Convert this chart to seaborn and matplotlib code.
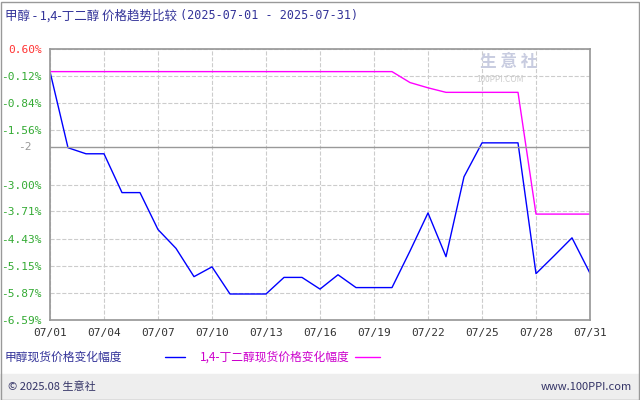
import numpy as np
import pandas as pd
import matplotlib
matplotlib.use("Agg")
import matplotlib.pyplot as plt
import seaborn as sns

days = list(range(1, 32))
methanol = [0, -2.02, -2.18, -2.18, -3.21, -3.21, -4.19, -4.69, -5.44, -5.18,
            -5.90, -5.90, -5.90, -5.46, -5.46, -5.77, -5.39, -5.73, -5.73, -5.73,
            -4.76, -3.75, -4.91, -2.79, -1.89, -1.89, -1.89, -5.36, -4.89, -4.41, -5.35]
bdo = [0] * 20 + [-0.29, -0.43, -0.55, -0.55, -0.55, -0.55, -0.55, -3.78, -3.78, -3.78, -3.78]
yticks = [0.60, -0.12, -0.84, -1.56, -3.00, -3.71, -4.43, -5.15, -5.87, -6.59]
xtick_days = list(range(1, 32, 3))
xtick_labels = [f"07/{d:02d}" for d in xtick_days]

sns.set_theme(style="white")
plt.rcParams['font.family'] = ['Noto Sans CJK SC', 'DejaVu Sans']

df = pd.DataFrame({"day": days + days,
                   "val": methanol + bdo,
                   "name": ["甲醇现货价格变化幅度"] * 31 + ["1,4-丁二醇现货价格变化幅度"] * 31})

fig = plt.figure(figsize=(6.4, 4.0), dpi=100)
ax = fig.add_axes([50 / 640, 1 - 320 / 400, 540 / 640, 271 / 400])
sns.lineplot(data=df, x="day", y="val", hue="name", palette=["#0000ff", "#ff00ff"],
             linewidth=1, ax=ax, legend=False)
ax.set_xlim(1, 31)
ax.set_ylim(-6.59, 0.60)
ax.set_yticks(yticks)
ax.set_yticklabels([f"{v:.2f}%" for v in yticks], fontsize=8, family='DejaVu Sans Mono')
for lab, v in zip(ax.get_yticklabels(), yticks):
    lab.set_color("#ff3333" if v > 0 else "#33aa33")
ax.set_xticks(xtick_days)
ax.set_xticklabels(xtick_labels, fontsize=8, family='DejaVu Sans Mono', color="#333333")
ax.set_xlabel("")
ax.set_ylabel("")
ax.grid(True, color="#cccccc", linestyle="--", linewidth=0.8)
ax.axhline(-2, color="#999999", linewidth=1)
ax.text(-0.06, -2, "-2", transform=ax.get_yaxis_transform(), ha="left", va="center",
        fontsize=8, color="#999999", family='DejaVu Sans Mono')
for s in ax.spines.values():
    s.set_color("#999999")
ax.tick_params(length=0, pad=6)

fig.text(5 / 640, 1 - 16 / 400, "甲醇 - 1,4-丁二醇 价格趋势比较", fontsize=9, color="#333399", va="center")
fig.text(180 / 640, 1 - 16 / 400, "(2025-07-01 - 2025-07-31)", fontsize=8.5, color="#333399",
         va="center", family='DejaVu Sans Mono')
fig.text(480 / 640, 1 - 62 / 400, "生 意 社", fontsize=12, color="#c8cce0", va="center", weight="bold")
fig.text(476 / 640, 1 - 80 / 400, "100PPI.COM", fontsize=6, color="#cccccc", va="center")

fig.text(5 / 640, 1 - 357 / 400, "甲醇现货价格变化幅度", fontsize=8.5, color="#333399", va="center")
fig.add_artist(plt.Line2D([165 / 640, 185 / 640], [1 - 357 / 400] * 2, color="#0000ff", lw=1))
fig.text(200 / 640, 1 - 357 / 400, "1,4-丁二醇现货价格变化幅度", fontsize=8.5, color="#cc00cc", va="center")
fig.add_artist(plt.Line2D([355 / 640, 380 / 640], [1 - 357 / 400] * 2, color="#ff00ff", lw=1))

fig.patches.append(plt.Rectangle((0, 0), 1, 26 / 400, transform=fig.transFigure,
                                 color="#eeeeee", zorder=0))
fig.text(8 / 640, 13 / 400, "© 2025.08 生意社", fontsize=8, color="#333366", va="center")
fig.text(632 / 640, 13 / 400, "www.100PPI.com", fontsize=8, color="#333366", va="center", ha="right")
fig.add_artist(plt.Rectangle((0.5 / 640, 0.5 / 400), 638 / 640, 398 / 400, transform=fig.transFigure,
                             fill=False, edgecolor="#999999", lw=1))

fig.savefig("out.png", dpi=100)
